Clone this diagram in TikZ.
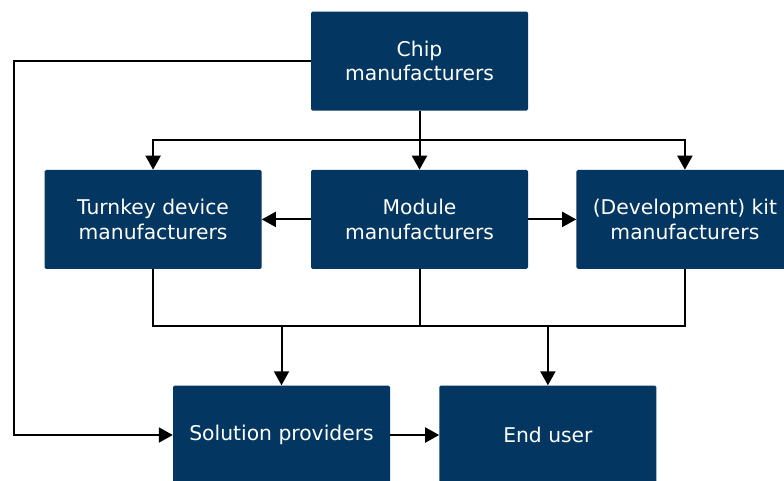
\documentclass[tikz,border=0pt]{standalone}
\usepackage{fontspec}
\setmainfont{DejaVu Sans}
\usetikzlibrary{
  arrows.meta,
  positioning
}
\definecolor{navy}{RGB}{3,54,96}
\tikzset{
  box/.style={
    rectangle, fill=navy, draw=none, rounded corners=1.5pt,
    minimum width=217pt, minimum height=99pt,
    align=center, text=white, inner sep=0pt,
    font=\fontsize{20.3}{24.5}\selectfont
  },
  link/.style={line width=2pt, black},
  arrow/.style={link, -{Triangle[length=14pt, width=15pt]}}
}

\begin{document}
\begin{tikzpicture}[x=1pt, y=1pt, node distance=59pt and 49pt]

\clip (0,0) rectangle (784,-480);

% ── Top row ─────────────────────────────────────────────────────────────────
\node[box] (chip) at (419.5,-61) {Chip\\manufacturers};

% ── Middle row ──────────────────────────────────────────────────────────────
\node[box, below=59pt of chip] (module) {Module\\manufacturers};
\node[box, left=49pt of module] (turnkey) {Turnkey device\\manufacturers};
\node[box, right=48pt of module] (kit) {(Development) kit\\manufacturers};

% ── Bottom row ──────────────────────────────────────────────────────────────
\node[box] (solution) at (281.5,-435) {Solution providers};
\node[box, right=49pt of solution] (enduser) {End user};

% ── Chip to middle row ──────────────────────────────────────────────────────
\draw[link] (chip.south) -- ++(0,-29) coordinate (split);
\draw[arrow] (split) -| (turnkey.north);
\draw[arrow] (split) -| (kit.north);
\draw[arrow] (split) -- (module.north);

\draw[arrow] (module.west) -- (turnkey.east);
\draw[arrow] (module.east) -- (kit.west);

% Chip straight to solution providers
\draw[arrow] (chip.west) -- ++(-297,0) |- (solution.west);

% ── Middle row to bottom row ────────────────────────────────────────────────
\draw[link] (turnkey.south) -- ++(0,-57) coordinate (join) -| (kit.south);
\draw[link] (module.south) -- (module.south |- join);
\draw[arrow] (solution.north |- join) -- (solution.north);
\draw[arrow] (enduser.north |- join) -- (enduser.north);

\draw[arrow] (solution.east) -- (enduser.west);

\end{tikzpicture}
\end{document}
